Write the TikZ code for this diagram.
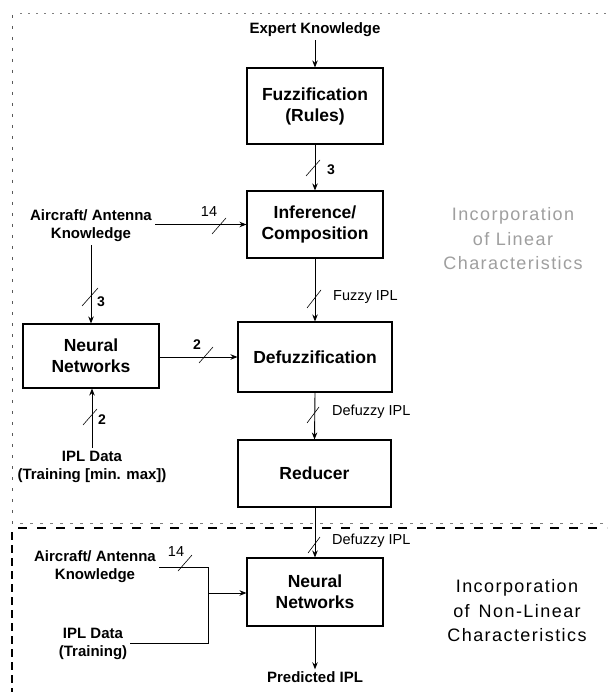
\documentclass[tikz,border=0pt]{standalone}
\usepackage{fontspec}
\setmainfont{Liberation Sans}
\newfontfamily\incfont[LetterSpace=8]{Liberation Sans}
\usetikzlibrary{arrows.meta,calc}
\tikzset{
  box/.style={draw, line width=1.1pt, inner sep=0pt, align=center,
    font=\bfseries\fontsize{17.5}{21}\selectfont},
  lbl/.style={align=center, inner sep=3pt, font=\bfseries\fontsize{15}{18}\selectfont},
  small/.style={inner sep=0pt, font=\fontsize{14.5}{17}\selectfont},
  arr/.style={line width=0.9pt, -{Stealth[length=7pt,width=5.5pt]}},
  wire/.style={line width=0.9pt},
  slash/.style={line width=0.6pt},
  inc/.style={align=center, inner sep=0pt, font=\incfont\fontsize{18}{24.5}\selectfont}
}
\begin{document}
\begin{tikzpicture}[x=1pt,y=-1pt]
\useasboundingbox[fill=white] (0,0) rectangle (607,692);

% frame artefacts
\draw[gray, line width=0.6pt, dash pattern=on 2pt off 6pt] (20,13) -- (607,13);
\draw[gray!70!black, line width=0.8pt, dash pattern=on 3pt off 8pt] (12,15) -- (12,525);
\draw[gray, line width=0.5pt, dash pattern=on 3pt off 7pt] (20,523) -- (607,523);
\draw[line width=2pt, dash pattern=on 9pt off 10pt] (18,528) -- (607,528);
\draw[line width=1.7pt, dash pattern=on 8pt off 5pt] (12,532) -- (12,692);

% boxes
\node[box, minimum width=136pt, minimum height=76pt] (fuzz) at (315,106) {Fuzzification\\(Rules)};
\node[box, minimum width=136pt, minimum height=67pt] (inf) at (315,224.5) {Inference/\\Composition};
\node[box, minimum width=154pt, minimum height=70pt] (defz) at (315,357) {Defuzzification};
\node[box, minimum width=153pt, minimum height=67pt] (red) at (314.5,473.5) {Reducer};
\node[box, minimum width=136pt, minimum height=64pt] (nn1) at (91,356) {Neural\\Networks};
\node[box, minimum width=136pt, minimum height=68pt] (nn2) at (315,592) {Neural\\Networks};

% text labels
\node[lbl] (exp) at (315,30) {Expert Knowledge};
\node[lbl] (ac1) at (91,226) {Aircraft/ Antenna\\Knowledge};
\node[lbl] (ipl1) at (92,467) {IPL Data\\(Training [min. max])};
\node[lbl] (ac2) at (95,567) {Aircraft/ Antenna\\Knowledge};
\node[lbl] (ipl2) at (93,644) {IPL Data\\(Training)};
\node[lbl, inner sep=2pt] (pred) at (315,677) {Predicted IPL};

\node[inc, text=gray!75] (lin) at (513,239) {Incorporation\\of Linear\\Characteristics};
\node[inc] (nlin) at (517,611) {Incorporation\\of\enspace Non-Linear\\Characteristics};

% connectors upper part
\draw[arr] (exp.south) -- (fuzz.north);
\draw[arr] (fuzz.south) -- (inf.north);
\draw[arr] (ac1.east |- inf.west) -- (inf.west);
\draw[arr] (ac1.south) -- (ac1.south |- nn1.north);
\draw[arr] (ipl1.north) -- (ipl1.north |- nn1.south);
\draw[arr] (nn1.east |- defz.west) -- (defz.west);
\draw[arr] (inf.south) -- (defz.north);
\draw[arr] (defz.south) -- (red.north);

% connectors lower part
\draw[arr] (red.south -| nn2.north) -- (nn2.north);
\draw[arr] (nn2.south) -- (pred.north);
\coordinate (j1) at (208,567);
\coordinate (j2) at (208,643);
\coordinate (jm) at (208,593);
\draw[wire] (ac2.east |- j1) -- (j1) -- (j2) -- (ipl2.east |- j2);
\draw[arr] (jm) -- (jm -| nn2.west);

% slashes and bus widths
\draw[slash] (313,168) ++(-7,8) -- ++(14,-16);
\node[small, font=\bfseries\fontsize{14}{17}\selectfont] at (331,170) {3};
\draw[slash] (219,226) ++(-7,8) -- ++(14,-16);
\node[small] at (209,212) {14};
\draw[slash] (90,297) ++(-8,9) -- ++(16,-18);
\node[small, font=\bfseries\fontsize{14}{17}\selectfont] at (101,302) {3};
\draw[slash] (90,417) ++(-7,8) -- ++(14,-16);
\node[small, font=\bfseries\fontsize{14}{17}\selectfont] at (102,420) {2};
\draw[slash] (206,355) ++(-7,8) -- ++(14,-16);
\node[small, font=\bfseries\fontsize{14}{17}\selectfont] at (197,345) {2};
\draw[slash] (314,299) ++(-7,9) -- ++(14,-18);
\node[small, anchor=west] at (333,297) {Fuzzy IPL};
\draw[slash] (313,415) ++(-6,8) -- ++(12,-16);
\node[small, anchor=west] at (332,412) {Defuzzy IPL};
\draw[slash] (314,545) ++(-6,8) -- ++(12,-16);
\node[small, anchor=west] at (332,541) {Defuzzy IPL};
\draw[slash] (185,563) ++(-7,8) -- ++(14,-16);
\node[small] at (176,552) {14};
\end{tikzpicture}
\end{document}
